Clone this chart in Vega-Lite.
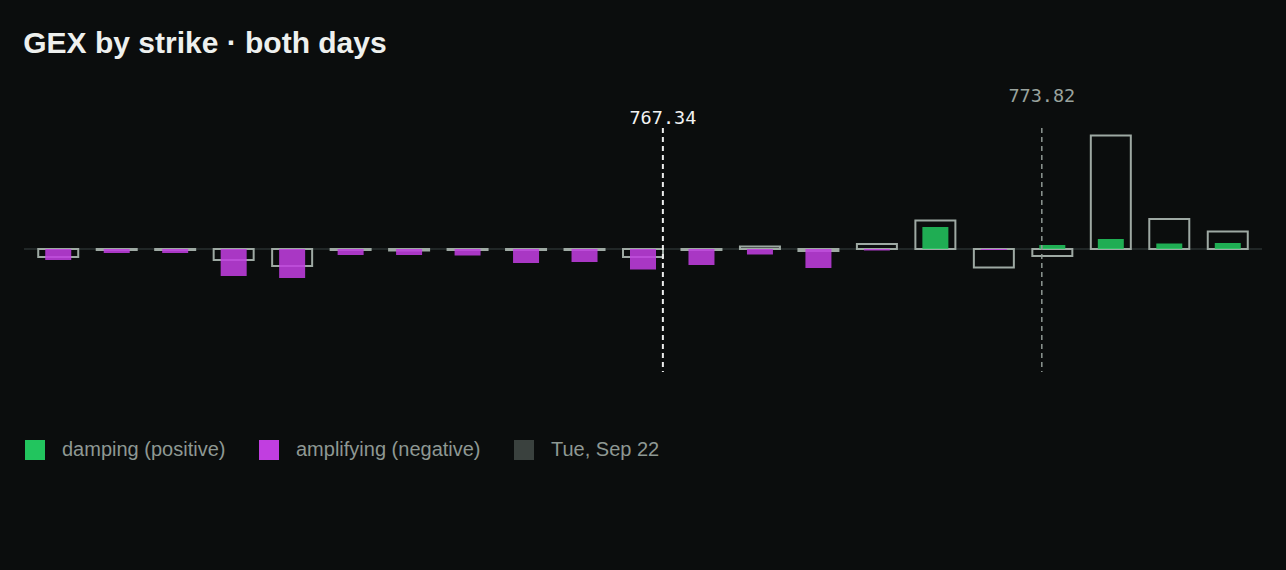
{
  "$schema": "https://vega.github.io/schema/vega-lite/v6.json",
  "width": 1238,
  "height": 244,
  "autosize": {"type": "none"},
  "padding": {"left": 24, "top": 128, "right": 24, "bottom": 198},
  "background": "#0b0d0d",
  "config": {"view": {"stroke": null}},
  "title": {
    "text": "GEX by strike · both days",
    "anchor": "start", "offset": 28,
    "fontSize": 30, "fontWeight": "bold", "color": "#eef0ee", "font": "Liberation Sans"
  },
  "layer": [
    {
      "data": {"values": [{"level": 0}]},
      "mark": {"type": "rule", "color": "#2a3130", "strokeWidth": 1.5},
      "encoding": {
        "y": {"field": "level", "type": "quantitative", "scale": {"domain": [-2.46, 2.42], "nice": false, "zero": false}, "axis": null}
      }
    },
    {
      "data": {
        "values": [
          {"strike": 757, "gex": -0.16}, {"strike": 758, "gex": -0.02}, {"strike": 759, "gex": -0.02},
          {"strike": 760, "gex": -0.22}, {"strike": 761, "gex": -0.34}, {"strike": 762, "gex": -0.02},
          {"strike": 763, "gex": -0.03}, {"strike": 764, "gex": -0.02}, {"strike": 765, "gex": -0.02},
          {"strike": 766, "gex": -0.02}, {"strike": 767, "gex": -0.16}, {"strike": 768, "gex": -0.02},
          {"strike": 769, "gex": 0.05}, {"strike": 770, "gex": -0.04}, {"strike": 771, "gex": 0.10},
          {"strike": 772, "gex": 0.57}, {"strike": 773, "gex": -0.37}, {"strike": 774, "gex": -0.14},
          {"strike": 775, "gex": 2.27}, {"strike": 776, "gex": 0.60}, {"strike": 777, "gex": 0.35}
        ]
      },
      "mark": {"type": "bar", "size": 40, "fill": "transparent", "stroke": "#9ea9a3", "strokeWidth": 2},
      "encoding": {
        "x": {
          "field": "strike", "type": "quantitative",
          "scale": {"domain": [756.5, 777.5], "nice": false, "zero": false},
          "axis": {
            "values": [757, 760, 763, 766, 769, 772, 775, 777],
            "domain": false, "ticks": false, "grid": false, "labelPadding": 38,
            "labelFont": "DejaVu Sans Mono", "labelFontSize": 18.5, "labelColor": "#8e9893", "title": ""
          }
        },
        "y": {"field": "gex", "type": "quantitative", "axis": null}
      }
    },
    {
      "data": {
        "values": [
          {"strike": 757, "gex": -0.22, "kind": "amplifying (negative)"}, {"strike": 758, "gex": -0.08, "kind": "amplifying (negative)"},
          {"strike": 759, "gex": -0.08, "kind": "amplifying (negative)"}, {"strike": 760, "gex": -0.54, "kind": "amplifying (negative)"},
          {"strike": 761, "gex": -0.58, "kind": "amplifying (negative)"}, {"strike": 762, "gex": -0.12, "kind": "amplifying (negative)"},
          {"strike": 763, "gex": -0.12, "kind": "amplifying (negative)"}, {"strike": 764, "gex": -0.13, "kind": "amplifying (negative)"},
          {"strike": 765, "gex": -0.28, "kind": "amplifying (negative)"}, {"strike": 766, "gex": -0.26, "kind": "amplifying (negative)"},
          {"strike": 767, "gex": -0.41, "kind": "amplifying (negative)"}, {"strike": 768, "gex": -0.32, "kind": "amplifying (negative)"},
          {"strike": 769, "gex": -0.11, "kind": "amplifying (negative)"}, {"strike": 770, "gex": -0.38, "kind": "amplifying (negative)"},
          {"strike": 771, "gex": -0.03, "kind": "amplifying (negative)"}, {"strike": 772, "gex": 0.44, "kind": "damping (positive)"},
          {"strike": 773, "gex": -0.02, "kind": "amplifying (negative)"}, {"strike": 774, "gex": 0.08, "kind": "damping (positive)"},
          {"strike": 775, "gex": 0.20, "kind": "damping (positive)"}, {"strike": 776, "gex": 0.11, "kind": "damping (positive)"},
          {"strike": 777, "gex": 0.12, "kind": "damping (positive)"}
        ]
      },
      "mark": {"type": "bar", "size": 26, "opacity": 0.87},
      "encoding": {
        "x": {"field": "strike", "type": "quantitative", "axis": null},
        "y": {"field": "gex", "type": "quantitative", "axis": null},
        "color": {
          "field": "kind", "type": "nominal",
          "scale": {
            "domain": ["damping (positive)", "amplifying (negative)", "Tue, Sep 22"],
            "range": ["#22c55e", "#c13ee0", "#3a413e"]
          },
          "legend": {
            "title": "", "orient": "none", "legendX": 0, "legendY": 311, "direction": "horizontal",
            "columnPadding": 32, "labelOffset": 16,
            "labelFontSize": 20, "labelColor": "#8e9893", "labelFont": "Liberation Sans", "labelLimit": 300,
            "symbolType": "square", "symbolSize": 400, "symbolOpacity": 1
          }
        }
      }
    },
    {
      "data": {"values": [{"price": 767.34, "label": "767.34", "role": "spot"}]},
      "mark": {"type": "rule", "color": "#ececec", "strokeWidth": 2, "strokeDash": [5, 4]},
      "encoding": {
        "x": {"field": "price", "type": "quantitative", "axis": null}
      }
    },
    {
      "data": {"values": [{"price": 767.34, "label": "767.34"}]},
      "mark": {"type": "text", "color": "#f2f2f2", "font": "DejaVu Sans Mono", "fontSize": 18.5},
      "encoding": {
        "x": {"field": "price", "type": "quantitative", "axis": null},
        "y": {"datum": 2.62, "type": "quantitative", "axis": null},
        "text": {"field": "label", "type": "nominal"}
      }
    },
    {
      "data": {"values": [{"price": 773.82, "label": "773.82", "role": "previous spot"}]},
      "mark": {"type": "rule", "color": "#8f9893", "strokeWidth": 1.5, "strokeDash": [5, 4]},
      "encoding": {
        "x": {"field": "price", "type": "quantitative", "axis": null}
      }
    },
    {
      "data": {"values": [{"price": 773.82, "label": "773.82"}]},
      "mark": {"type": "text", "color": "#9aa39e", "font": "DejaVu Sans Mono", "fontSize": 18.5},
      "encoding": {
        "x": {"field": "price", "type": "quantitative", "axis": null},
        "y": {"datum": 3.06, "type": "quantitative", "axis": null},
        "text": {"field": "label", "type": "nominal"}
      }
    }
  ]
}
